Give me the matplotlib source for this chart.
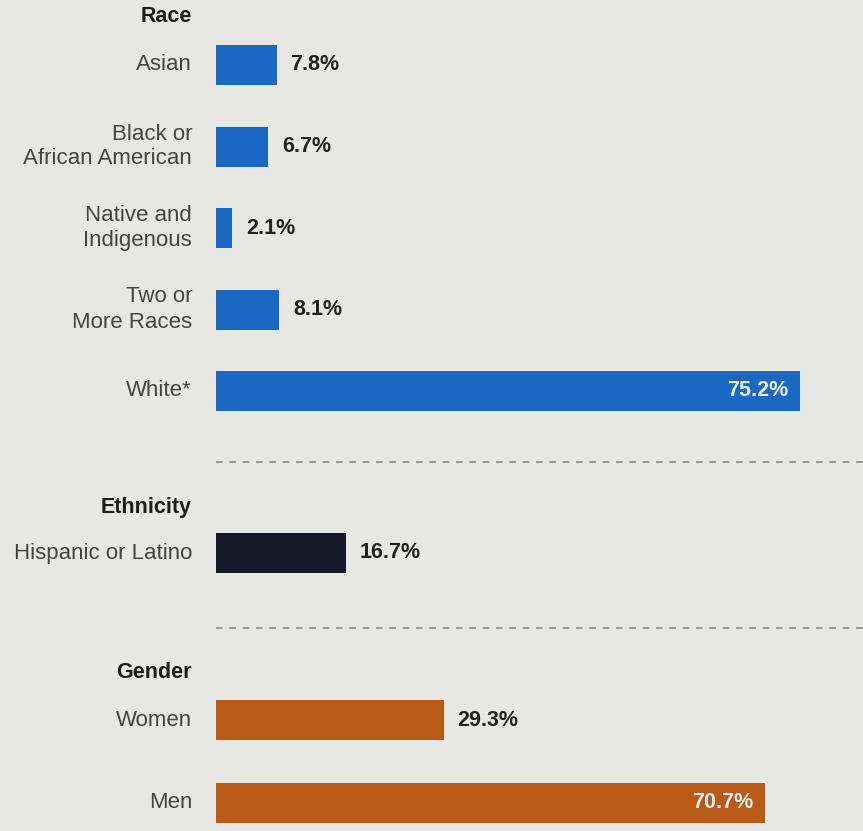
import matplotlib.pyplot as plt

plt.rcParams['font.family'] = ['Liberation Sans Narrow', 'Liberation Sans', 'DejaVu Sans']

# data
race_labels = ["Asian", "Black or\nAfrican American", "Native and\nIndigenous",
               "Two or\nMore Races", "White*"]
race_values = [7.8, 6.7, 2.1, 8.1, 75.2]
eth_labels = ["Hispanic or Latino"]
eth_values = [16.7]
gender_labels = ["Women", "Men"]
gender_values = [29.3, 70.7]

groups = [
    ("Race", race_labels, race_values, "#1a68c2", 17, 65, 81.5),
    ("Ethnicity", eth_labels, eth_values, "#17172a", 508, 553, 81.5),
    ("Gender", gender_labels, gender_values, "#b95b16", 672, 720, 83),
]
separators = [462, 628]

BG = "#e7e7e3"
PX = 7.77  # pixels per percent
fig = plt.figure(figsize=(8.63, 8.31), dpi=100, facecolor=BG)
ax = fig.add_axes([0, 0, 1, 1])
ax.set_facecolor(BG)
ax.set_xlim(-216 / PX, (863 - 216) / PX)
ax.set_ylim(831, 0)
ax.axis("off")

lab_x = -24 / PX
for title, labels, values, color, ty, y0, step in groups:
    ax.text(lab_x, ty, title, ha="right", va="center", fontsize=15.5,
            fontweight="bold", color="#1d1d1d")
    ys = [y0 + i * step for i in range(len(values))]
    ax.barh(ys, values, height=40, color=color)
    for y, lab, v in zip(ys, labels, values):
        ax.text(lab_x, y, lab, ha="right", va="center", fontsize=16,
                color="#444444", linespacing=1.25)
        if v > 50:
            ax.text(v - 12 / PX, y, f"{v}%", ha="right", va="center",
                    fontsize=15.5, fontweight="bold", color="#e8eef5")
        else:
            ax.text(v + 14 / PX, y, f"{v}%", ha="left", va="center",
                    fontsize=15.5, fontweight="bold", color="#222222")

for sy in separators:
    ax.plot([0, 100], [sy, sy], color="#8a8a8a", lw=1.2, ls=(0, (4, 4)))

fig.savefig("out.png", dpi=100, facecolor=BG)
